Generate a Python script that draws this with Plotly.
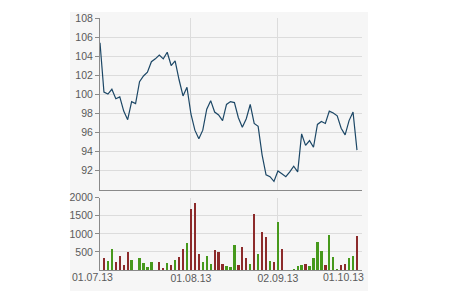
import pandas as pd
import plotly.graph_objects as go

# ---- data ----
dates = [d.strftime("%Y-%m-%d") for d in pd.bdate_range("2013-07-01", "2013-09-30")]
close = [105.4,
         100.2, 100.0, 100.5, 99.5, 99.7, 98.2, 97.3, 99.2, 99.0, 101.3,
         101.9, 102.3, 103.4, 103.7, 104.1, 103.7, 104.4, 103.0, 103.5, 101.5,
         99.8, 100.7, 97.9, 96.2, 95.3, 96.2, 98.4, 99.3, 98.1, 97.8,
         97.2, 98.9, 99.2, 99.1, 97.5, 96.5, 97.4, 98.9, 96.9, 96.6,
         93.6, 91.5, 91.3, 90.8, 91.9, 91.6, 91.3, 91.8, 92.4, 91.8,
         95.8, 94.6, 95.1, 94.4, 96.8, 97.1, 96.9, 98.2, 98.0, 97.7,
         96.4, 95.7, 97.2, 98.1, 94.1]
vol_dates = dates[1:]
volume = [330, 250, 580, 220, 385, 140, 495, 275, None, 330,
          195, 85, 220, None, 220, 55, 195, 140, 275, 360,
          580, 745, 1685, 1850, 440, 220, 385, 165, 550, 495,
          165, 110, 85, 690, 140, 635, 330, 165, 1550, 440,
          1050, 910, 250, 220, 1325, 580, None, None, 30, 110,
          140, 165, 110, 330, 775, 525, 140, 965, 360, 30,
          140, 165, 330, 385, 940]
direction = ["d", "u", "u", "d", "d", "d", "d", "u", "u", "u",
             "u", "u", "u", "u", "d", "d", "u", "d", "u", "d",
             "d", "u", "d", "d", "d", "u", "u", "u", "d", "d",
             "d", "u", "u", "u", "d", "d", "d", "u", "d", "u",
             "d", "d", "u", "d", "u", "d", "u", "u", "u", "u",
             "u", "d", "u", "u", "u", "u", "d", "u", "u", "u",
             "d", "d", "u", "u", "d"]
price_ticks = [92, 94, 96, 98, 100, 102, 104, 106, 108]
volume_ticks = [500, 1000, 1500, 2000]
x_tick_dates = ["2013-08-01", "2013-09-02"]
x_tick_text = ["01.08.13", "02.09.13"]
edge_labels = ["01.07.13", "01.10.13"]

RED = "#8c2b2b"
GREEN = "#46991c"
GRID = "#dcdcdc"
AXIS = "#8a8a8a"
BG = "#f6f6f6"
FONT = dict(family="Liberation Sans", size=10.5, color="#5a5a5a")

bar_colors = [RED if d == "d" else GREEN for d in direction]

fig = go.Figure()
fig.add_trace(go.Scatter(x=dates, y=close, mode="lines",
                         line=dict(color="#1c4766", width=1.2),
                         xaxis="x", yaxis="y", showlegend=False))
fig.add_trace(go.Bar(x=vol_dates, y=volume, marker=dict(color=bar_colors, line=dict(width=0)),
                     width=0.58, xaxis="x2", yaxis="y2", showlegend=False))

xcommon = dict(type="category", categoryorder="array", categoryarray=dates,
               range=[0, 66.27], showgrid=True, gridcolor=GRID, gridwidth=1,
               showline=True, linecolor=AXIS, linewidth=1,
               tickvals=x_tick_dates, ticktext=x_tick_text, tickfont=FONT,
               zeroline=False, fixedrange=True)

fig.update_layout(
    width=450, height=300,
    margin=dict(l=100, r=88, t=18, b=30),
    paper_bgcolor="white",
    plot_bgcolor="rgba(0,0,0,0)",
    font=FONT,
    bargap=0,
    xaxis=dict(xcommon, anchor="y", domain=[0, 1], showticklabels=False, ticks=""),
    xaxis2=dict(xcommon, anchor="y2", domain=[0, 1], showticklabels=True,
                ticks="", ticklabelstandoff=-2),
    yaxis=dict(domain=[0.3175, 1], range=[89.9, 108], tickvals=price_ticks,
               showgrid=True, gridcolor=GRID, showline=True, linecolor=AXIS,
               ticks="outside", ticklen=4, tickcolor=AXIS, tickfont=FONT,
               zeroline=False),
    yaxis2=dict(domain=[0, 0.287], range=[0, 2000], tickvals=volume_ticks,
                showgrid=True, gridcolor=GRID, showline=True, linecolor=AXIS,
                ticks="outside", ticklen=4, tickcolor=AXIS, tickfont=FONT,
                zeroline=False),
    shapes=[dict(type="rect", xref="paper", yref="paper",
                 x0=-0.1145, x1=1.023, y0=-0.0833, y1=1.0238,
                 fillcolor=BG, line=dict(width=0), layer="below")],
    annotations=[
        dict(text=edge_labels[0], xref="paper", yref="paper", x=-0.1145, y=-0.028,
             xanchor="left", yanchor="middle", showarrow=False, font=FONT),
        dict(text=edge_labels[1], xref="paper", yref="paper", x=1.015, y=-0.028,
             xanchor="right", yanchor="middle", showarrow=False, font=FONT),
    ],
)

fig.write_html("out.html")
